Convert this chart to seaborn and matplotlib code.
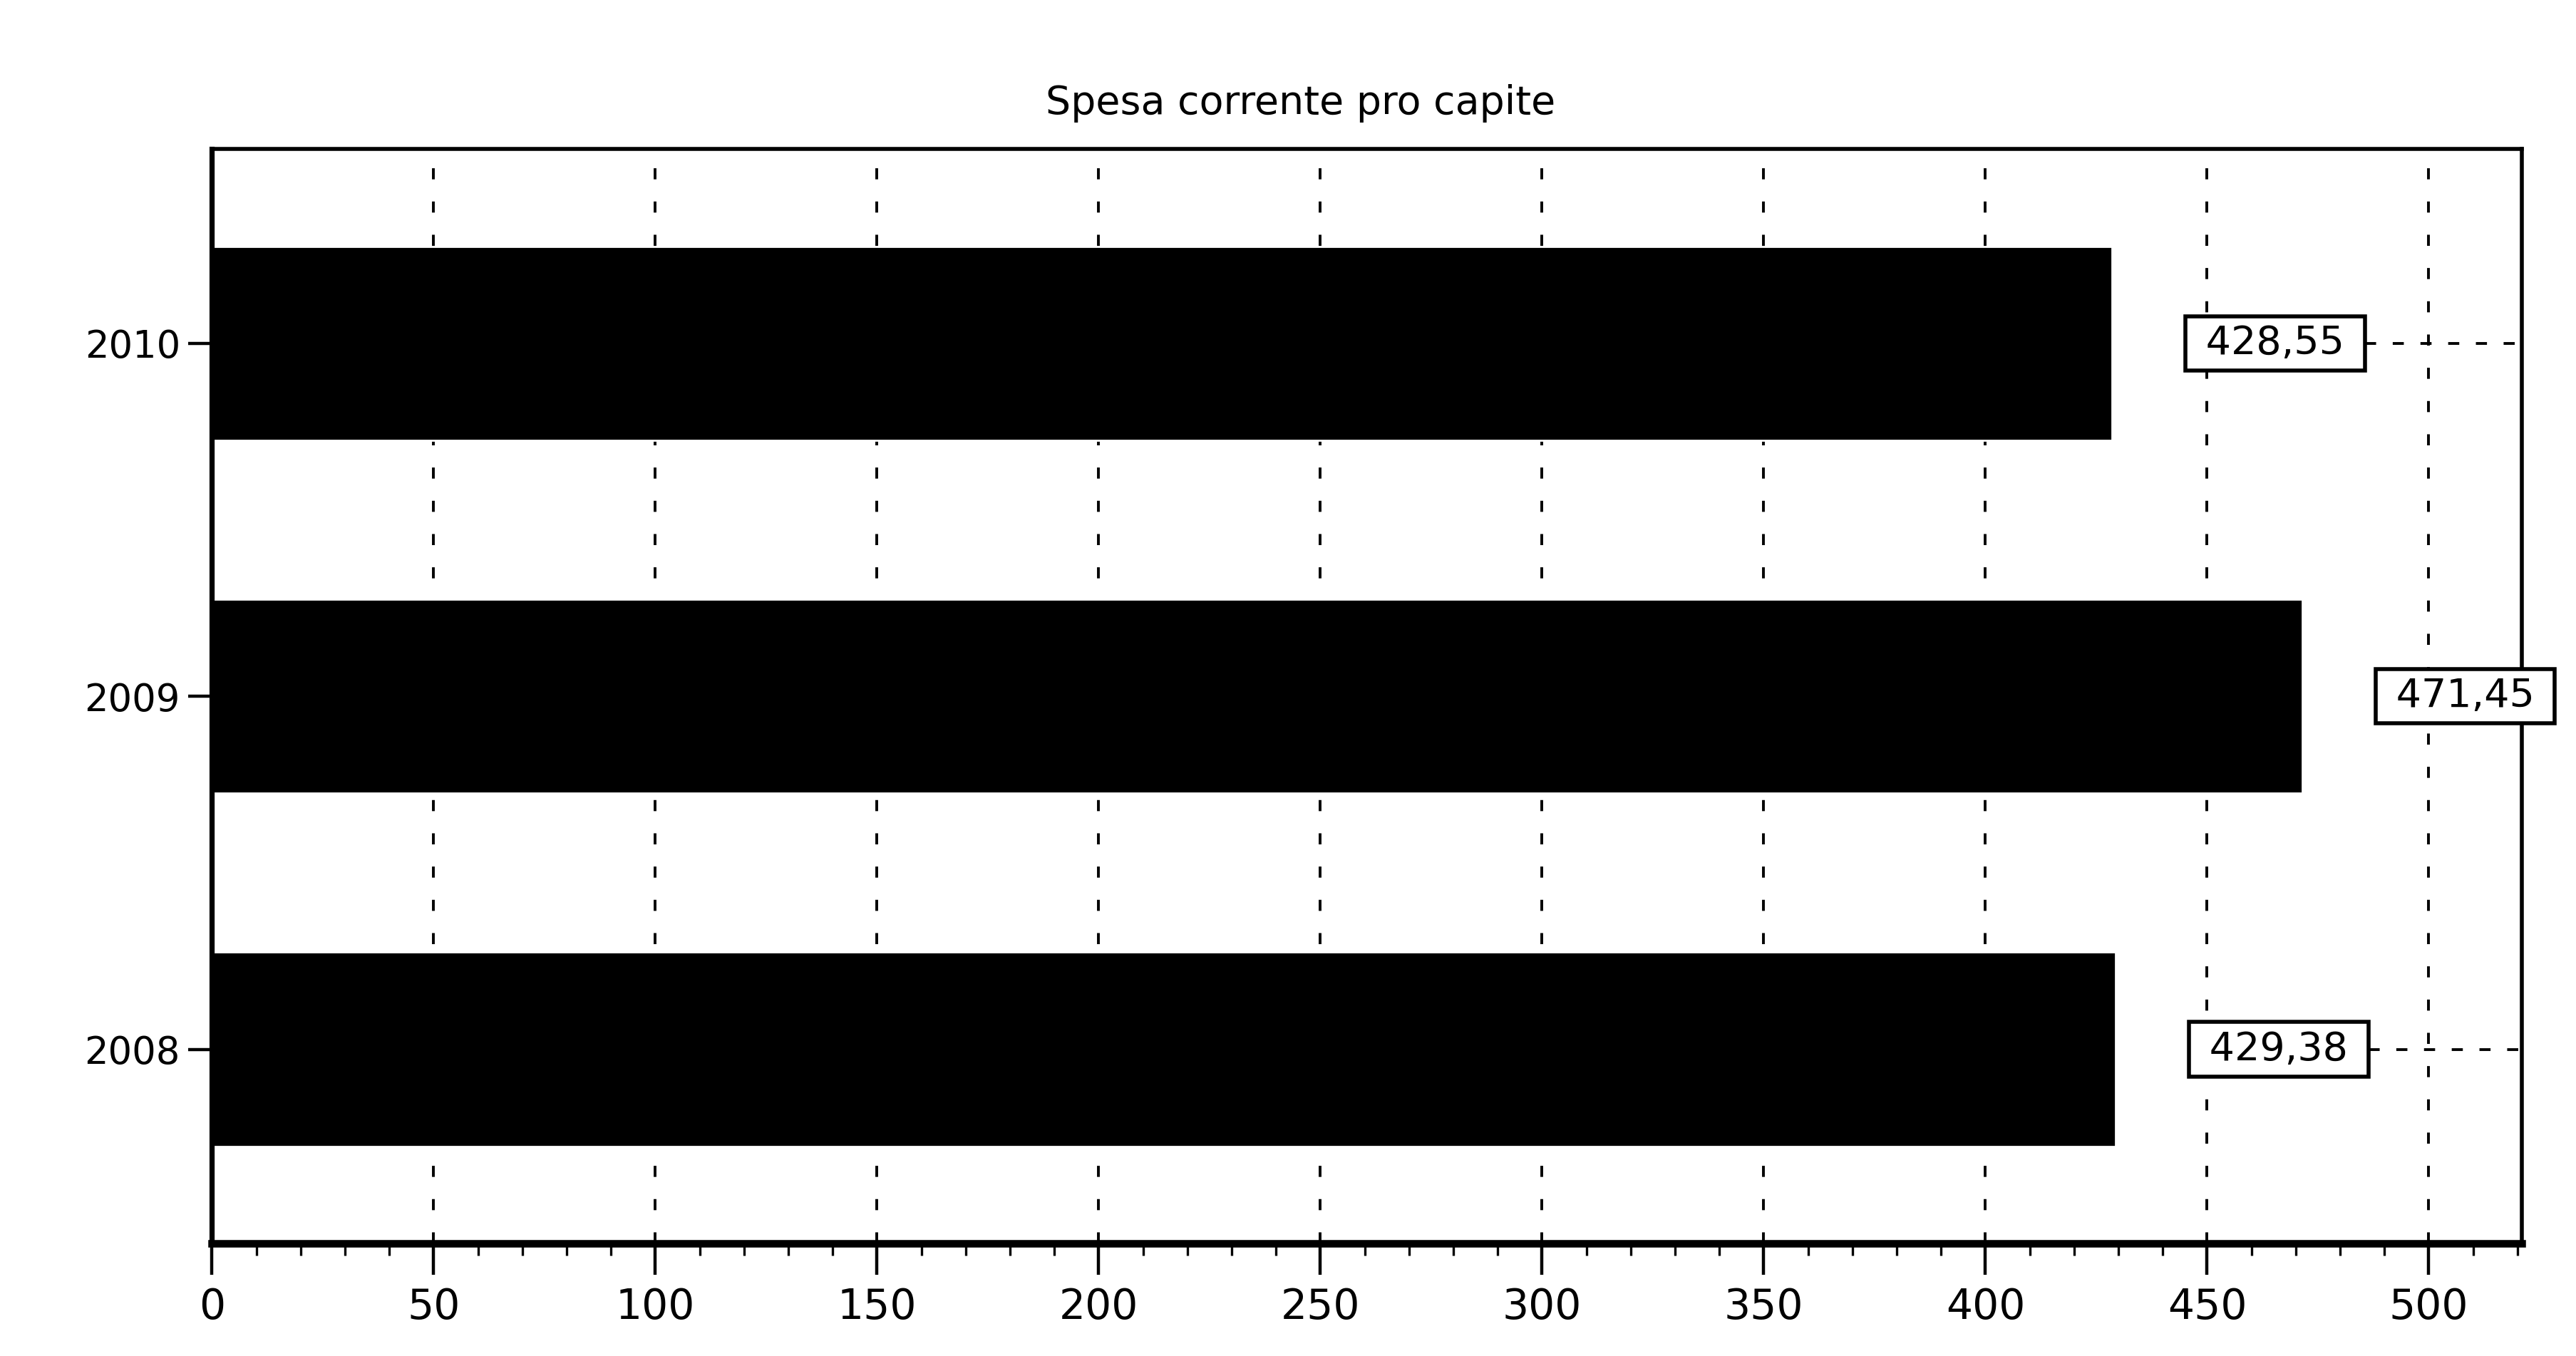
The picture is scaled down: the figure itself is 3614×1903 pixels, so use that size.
import matplotlib
matplotlib.use("Agg")
import matplotlib.pyplot as plt
import matplotlib.transforms as mtransforms
from matplotlib.ticker import MultipleLocator
import seaborn as sns
import pandas as pd

# ---- data ----
years = ["2010", "2009", "2008"]
values = [428.55, 471.45, 429.38]
title = "Spesa corrente pro capite"
x_ticks = [0, 50, 100, 150, 200, 250, 300, 350, 400, 450, 500]

df = pd.DataFrame({"anno": years, "spesa": values})

sns.set_theme(style="white")
plt.rcParams["font.family"] = ["DejaVu Sans"]

fig = plt.figure(figsize=(18.07, 9.515), dpi=200)
ax = fig.add_axes([0.0823, 0.083, 0.979 - 0.0823, 0.890 - 0.083])

sns.barplot(data=df, x="spesa", y="anno", order=years, orient="h",
            color="black", width=0.55, saturation=1, ax=ax, zorder=2)

ax.set_xlim(0, 521)
ax.set_ylim(2.55, -0.55)
ax.set_xticks(x_ticks)
ax.set_xticklabels([str(t) for t in x_ticks], fontsize=21)
ax.xaxis.set_minor_locator(MultipleLocator(10))
ax.tick_params(axis="y", labelsize=19, length=12, width=1.6, color="black",
               left=True, pad=4)
ax.tick_params(axis="x", which="major", length=16, width=1.6, color="black",
               bottom=True, pad=6)
ax.tick_params(axis="x", which="minor", length=6, width=1.2, color="black",
               bottom=True)
for lab in ax.get_yticklabels() + ax.get_xticklabels():
    lab.set_color("black")
ax.set_xlabel("")
ax.set_ylabel("")

# grid lines (vertical, dashed)
for t in x_ticks[1:]:
    ax.axvline(t, color="black", lw=1.4, ls=(0, (4, 8)), zorder=1)

for side, lw in [("left", 2.6), ("bottom", 3.8), ("top", 2.0), ("right", 2.0)]:
    ax.spines[side].set_visible(True)
    ax.spines[side].set_color("black")
    ax.spines[side].set_linewidth(lw)

fig.suptitle(title, x=0.505, y=0.924, va="center", fontsize=20, color="black")

# value labels
anns = []
for i, v in enumerate(values):
    txt = " " + f"{v:.2f}".replace(".", ",") + " "
    a = ax.annotate(txt, xy=(v, i), xytext=(41, 0), textcoords="offset points",
                    ha="left", va="center", fontsize=20, color="black",
                    annotation_clip=False, zorder=5,
                    bbox=dict(boxstyle="square,pad=0.2", fc="white",
                              ec="black", lw=2.0))
    a.set_clip_on(False)
    anns.append(a)

fig.canvas.draw()
renderer = fig.canvas.get_renderer()
inv = ax.transAxes.inverted()
trans = mtransforms.blended_transform_factory(ax.transAxes, ax.transData)
for i, a in enumerate(anns):
    bb = a.get_bbox_patch().get_window_extent(renderer)
    xr = inv.transform((bb.x1, 0))[0]
    if xr < 1:
        ax.plot([xr, 1], [i, i], transform=trans, color="black", lw=1.4,
                ls=(0, (4, 6)), zorder=1)

fig.savefig("out.png", dpi=200, facecolor="white")
